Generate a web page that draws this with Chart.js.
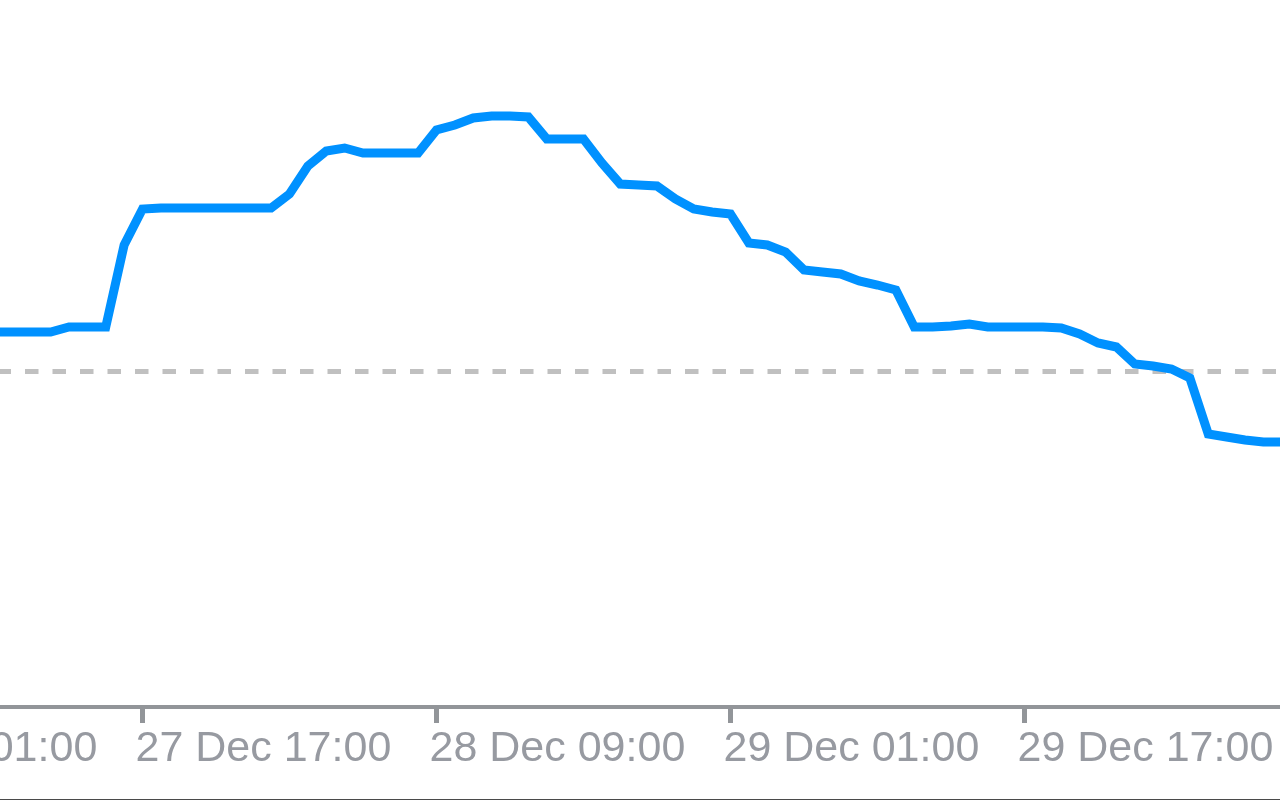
<!DOCTYPE html>
<html>
<head>
<meta charset="utf-8">
<script src="https://cdn.jsdelivr.net/npm/chart.js@4/dist/chart.umd.min.js"></script>
<style>
  html, body { margin: 0; padding: 0; background: #fff; }
  #wrap { width: 1280px; height: 799px; border-bottom: 1px solid #4a4a4a; position: relative; }
</style>
</head>
<body>
<div id="wrap"><canvas id="chart"></canvas></div>
<script>
// hours counted from 27 Dec 17:00 (hourly closes)
const hours = [-8, -7, -6, -5, -4, -3, -2, -1, 0, 1, 2, 3, 4, 5, 6, 7, 8, 9, 10, 11,
    12, 13, 14, 15, 16, 17, 18, 19, 20, 21, 22, 23, 24, 25, 26, 27, 28, 29, 30, 31,
    32, 33, 34, 35, 36, 37, 38, 39, 40, 41, 42, 43, 44, 45, 46, 47, 48, 49, 50, 51,
    52, 53, 54, 55, 56, 57, 58, 59, 60, 61, 62];
const closes = [1.1175, 1.1175, 1.1175, 1.1175, 1.1180, 1.1180, 1.1180, 1.1262, 1.1298, 1.1299,
    1.1299, 1.1299, 1.1299, 1.1299, 1.1299, 1.1299, 1.1313, 1.1341, 1.1356, 1.1359,
    1.1354, 1.1354, 1.1354, 1.1354, 1.1377, 1.1382, 1.1389, 1.1391, 1.1391, 1.1390,
    1.1368, 1.1368, 1.1368, 1.1344, 1.1323, 1.1322, 1.1321, 1.1308, 1.1298, 1.1295,
    1.1293, 1.1264, 1.1262, 1.1255, 1.1237, 1.1235, 1.1233, 1.1226, 1.1222, 1.1217,
    1.1180, 1.1180, 1.1181, 1.1183, 1.1180, 1.1180, 1.1180, 1.1180, 1.1179, 1.1173,
    1.1164, 1.1160, 1.1143, 1.1141, 1.1138, 1.1129, 1.1073, 1.1070, 1.1067, 1.1065,
    1.1065];

const levelPrice = 1.11355;

const tickHours = [-16, 0, 16, 32, 48];
const tickLabels = ['27 Dec 01:00', '27 Dec 17:00', '28 Dec 09:00', '29 Dec 01:00', '29 Dec 17:00'];

const xMin = -7.755;
const xMax = 61.905;
const yMin = 1.0800;
const yMax = 1.1507;

const axisColor = '#929599';

const priceData = hours.map((h, i) => ({ x: h, y: closes[i] }));
const levelData = [{ x: xMin, y: levelPrice }, { x: xMax, y: levelPrice }];

const ctx = document.getElementById('chart').getContext('2d');
new Chart(ctx, {
    type: 'line',
    data: {
        datasets: [
            {
                data: priceData,
                borderColor: '#0091ff',
                borderWidth: 9,
                pointRadius: 0,
                tension: 0,
                fill: false
            },
            {
                data: levelData,
                borderColor: '#c0c0c0',
                borderWidth: 5,
                borderDash: [13.5, 14],
                borderDashOffset: 2.5,
                pointRadius: 0,
                fill: false
            }
        ]
    },
    options: {
        responsive: true,
        maintainAspectRatio: false,
        animation: false,
        layout: { padding: 0 },
        plugins: {
            legend: { display: false },
            tooltip: { enabled: false }
        },
        scales: {
            x: {
                type: 'linear',
                min: xMin,
                max: xMax,
                border: { display: true, color: axisColor, width: 4 },
                grid: {
                    drawOnChartArea: false,
                    drawTicks: true,
                    tickLength: 16,
                    tickWidth: 5,
                    tickColor: axisColor
                },
                afterBuildTicks: (scale) => {
                    scale.ticks = tickHours.map(v => ({ value: v }));
                },
                afterFit: (scale) => {
                    scale.paddingLeft = 0;
                    scale.paddingRight = 0;
                    scale.height = 92;
                },
                ticks: {
                    align: 'start',
                    autoSkip: false,
                    maxRotation: 0,
                    padding: 0,
                    labelOffset: -7,
                    color: '#979aa1',
                    font: { family: 'Liberation Sans', size: 43 },
                    callback: (value) => {
                        const i = tickHours.indexOf(value);
                        return i >= 0 ? tickLabels[i] : '';
                    }
                }
            },
            y: {
                display: false,
                min: yMin,
                max: yMax
            }
        }
    }
});
</script>
</body>
</html>
